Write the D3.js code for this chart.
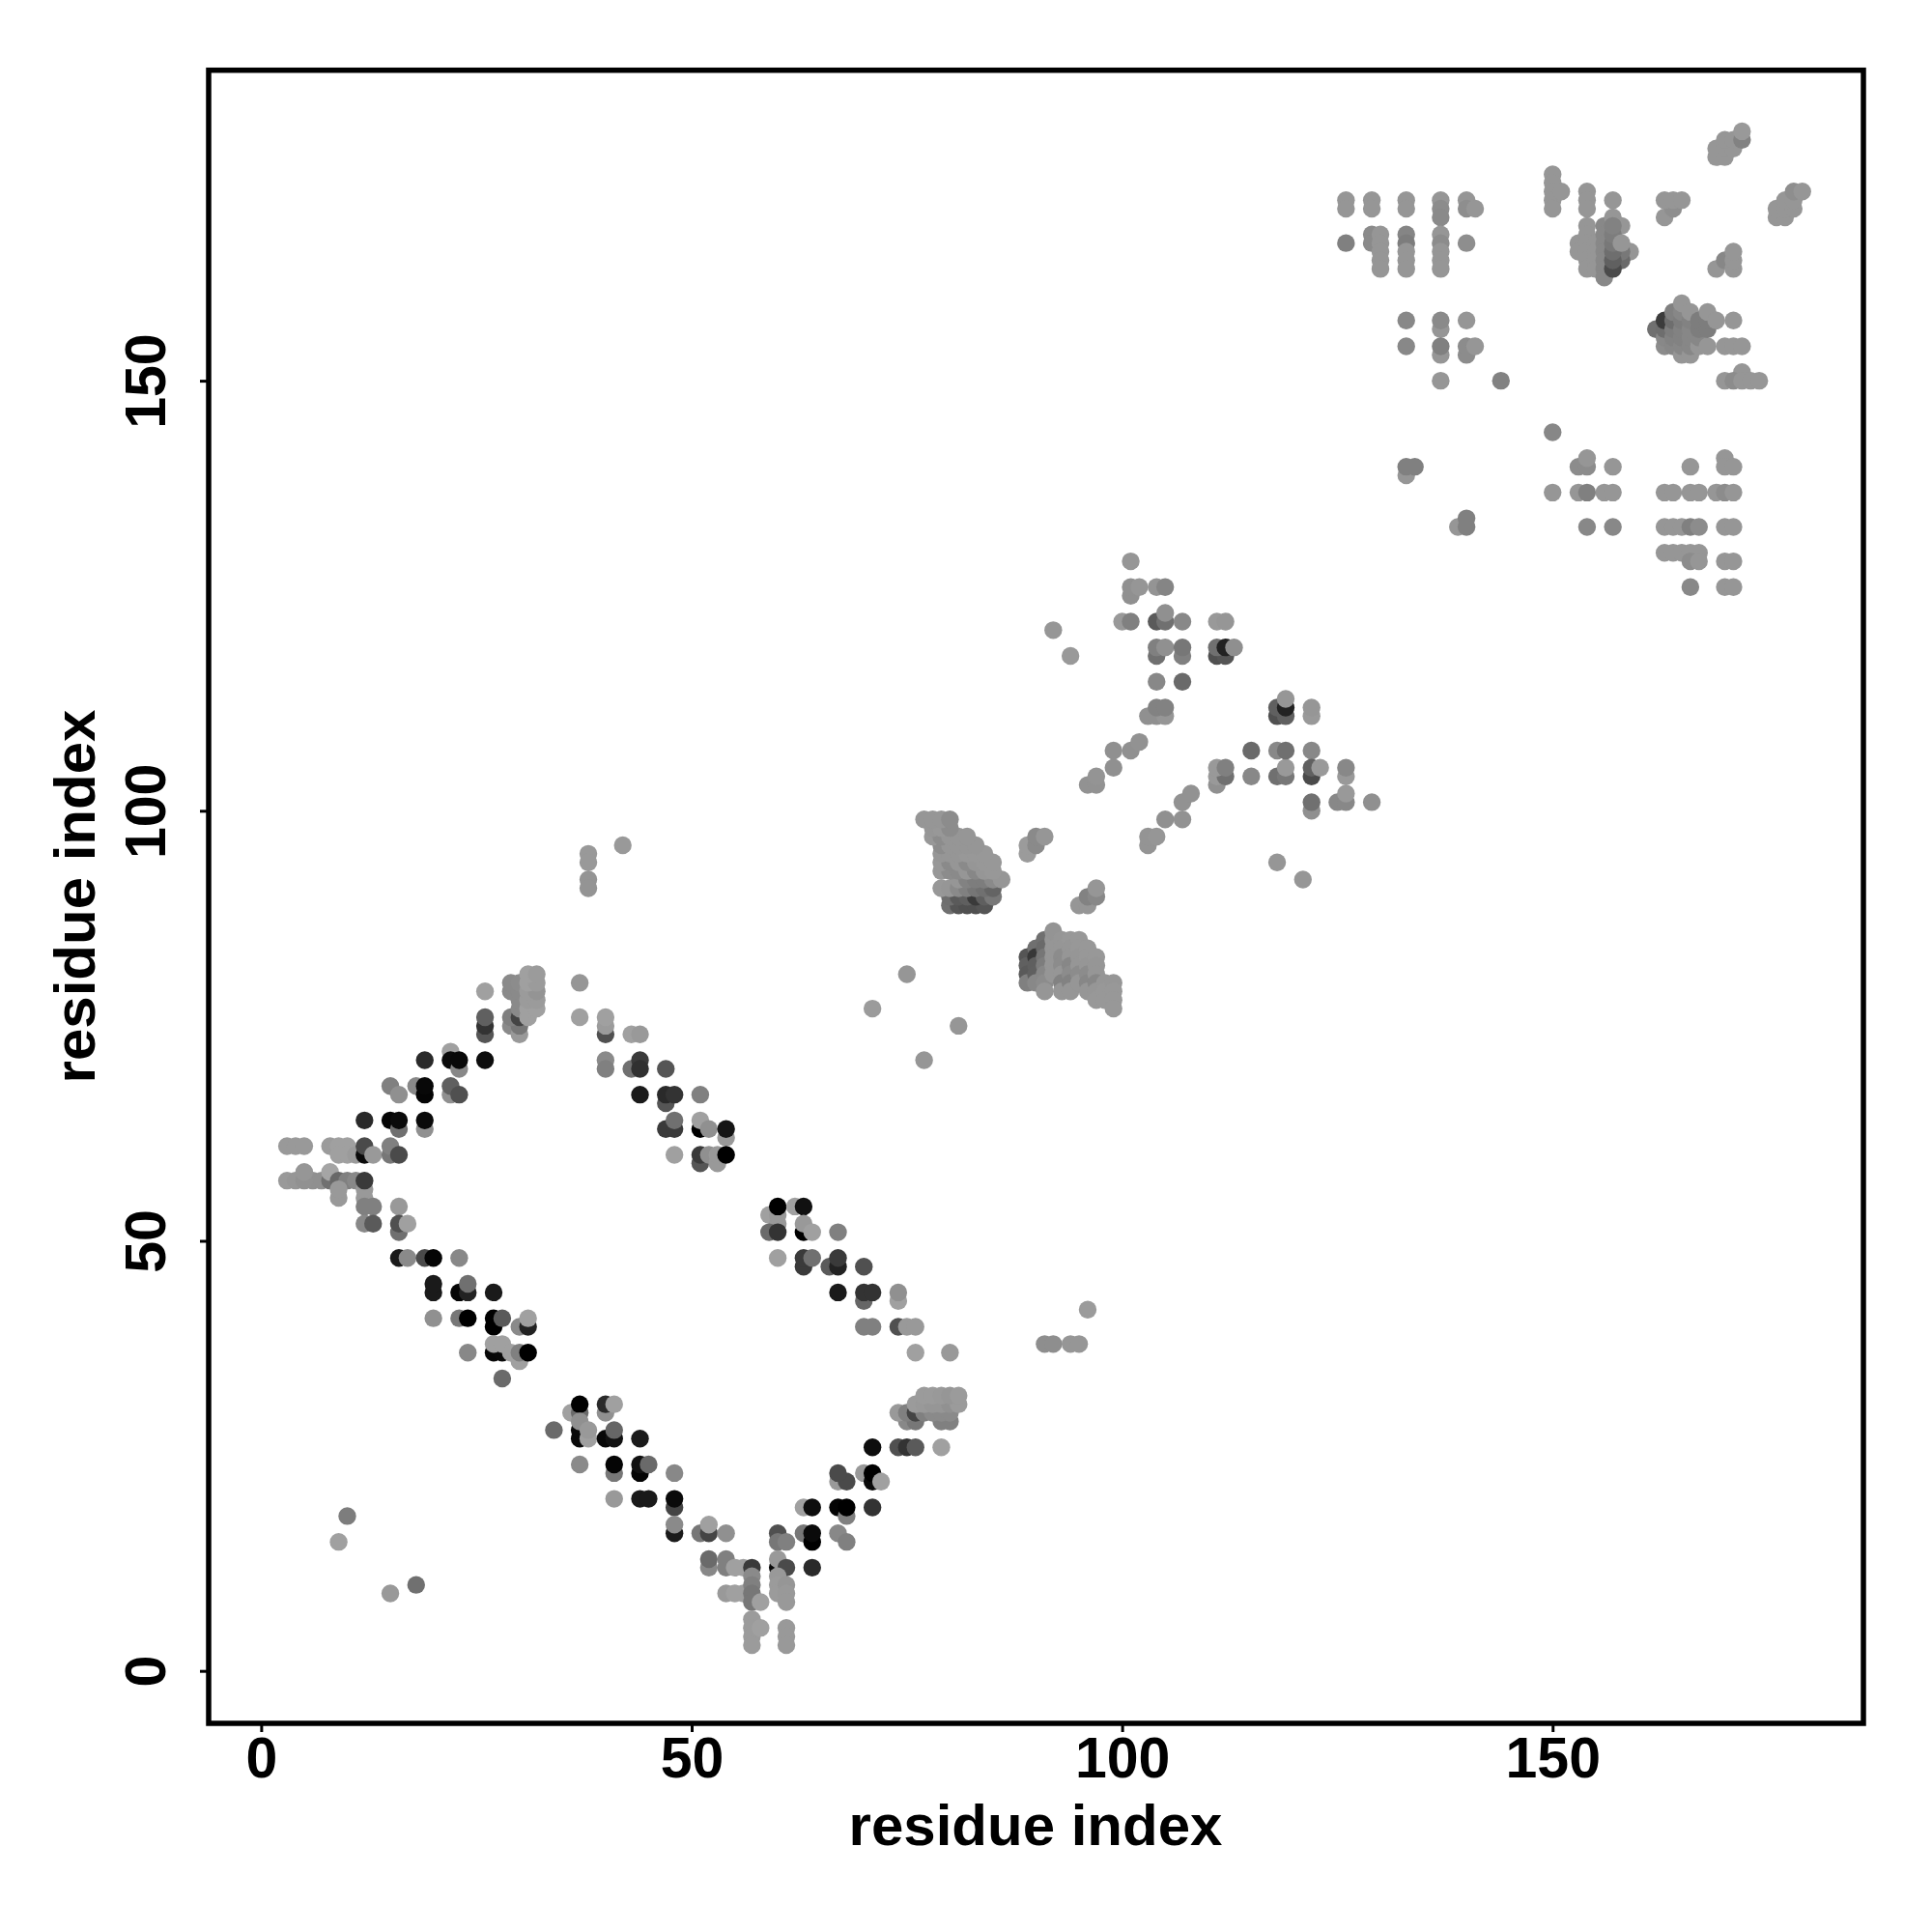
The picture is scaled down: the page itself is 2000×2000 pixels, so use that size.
<!DOCTYPE html>
<html><head><meta charset="utf-8">
<script src="https://cdn.jsdelivr.net/npm/d3@7"></script>
<style>html,body{margin:0;padding:0;background:#fff}svg{display:block}</style>
</head><body><svg id="c" width="2000" height="2000"></svg>
<script>
// each contact: [residue i, residue j, grey level]
const isolatedLow=[[10,18,125],[9,15,160],[15,9,153],[18,10,112],[38,95,153],[38,94,153],[38,92,148],[38,91,148],[42,96,153],[75,81,150],[71,77,155],[81,75,150],[77,71,150],[91,38,142],[92,38,142],[94,38,150],[95,38,150],[96,42,155],[76,37,160],[80,37,153]];
const upperLeft=[[3,61,153],[4,61,153],[5,61,153],[8,61,155],[9,61,160],[10,61,160],[9,60,160],[10,60,160],[11,60,155],[12,60,10],[12,61,74],[13,60,153],[15,60,119],[15,61,128],[16,60,74],
[3,57,153],[4,57,150],[6,57,144],[7,57,144],[5,57,145],[5,58,150],[8,57,112],[8,58,165],[9,57,104],[10,57,128],[11,57,136],[9,55,153],[9,56,153],[12,55,153],[12,56,153],[12,54,128],[13,54,128],[12,57,58],
[12,52,136],[13,52,90],[16,54,153],[16,51,112],[16,52,80],[17,52,160],
[12,64,42],[15,64,5],[16,63,112],[16,64,10],[19,63,144],[19,64,10],
[15,68,128],[16,67,144],[18,68,136],[19,67,5],[19,68,8],[22,67,144],[22,68,96],[23,67,80],
[19,71,42],[22,72,160],[22,71,10],[23,70,136],[23,71,8],[26,71,13],
[26,74,85],[26,75,51],[26,76,96],[26,79,160],
[29,75,138],[30,74,153],[30,75,119],[29,76,128],[30,76,68],[29,79,138],[29,80,138],[30,77,138],[30,78,138],[30,79,138],[30,80,140],[31,76,160],[31,77,160],[32,77,160],[31,78,155],[32,78,155],[31,79,155],[32,79,148],[31,80,160],[32,80,155],[31,81,160],[32,81,155]];
const lowerLeft=[[16,48,26],[17,48,138],[19,48,74],[20,48,5],[23,48,136],[20,44,26],[20,45,26],[23,44,5],[24,44,34],[24,45,112],[27,44,26],[20,41,144],[23,41,119],[24,41,0],[27,40,0],[27,41,0],[28,41,90],[30,40,138],[31,40,34],[31,41,160],
[24,37,136],[27,37,8],[28,37,10],[27,38,160],[28,38,160],[29,37,160],[30,36,160],[30,37,128],[31,37,0],[28,34,106],
[34,28,106],[36,30,160],[37,30,106],[37,31,0],[37,27,10],[37,28,10],[37,29,144],[38,27,160],[38,28,153],[40,27,8],[41,27,17],[41,28,102],[40,30,144],[40,31,42],[41,31,160],[44,27,26],
[37,24,138],[41,23,119],[41,24,5],[44,23,5],[44,24,17],[45,24,106],[48,23,136],
[41,20,153],[44,20,26],[45,20,26],[48,19,68],[48,20,10],[48,16,26],[48,17,138],
[51,16,119],[52,16,68],[52,17,160],[54,16,144],[52,12,136],[52,13,106],[54,12,128],[54,13,128],[55,12,160],[56,12,160],[57,12,58],
[54,9,153],[55,9,160],[56,9,160],[57,11,138],[57,10,128],[57,9,119],[57,8,119],[58,8,160],[57,6,155],[57,5,155],[57,4,155],[57,3,155],[58,5,160]];
const lowerRight=[[60,16,80],[60,15,119],[61,15,128],[60,12,10],[60,13,153],[61,12,74],[60,11,153],[60,10,155],[60,9,155],[61,10,150],[61,9,153],[61,8,153],[61,5,153],[61,4,153],[61,3,153],
[64,12,42],[63,16,119],[64,15,0],[64,16,10],[67,16,136],[68,15,128],[63,19,160],[64,19,13],[67,19,5],[68,18,128],[68,19,0],[71,19,51],[67,22,153],[68,22,74],[67,23,74],[70,23,153],[71,22,10],[71,23,0],[72,22,160],
[71,26,13],[74,26,80],[75,26,51],[76,26,90],[79,26,160],
[75,29,136],[76,29,119],[79,29,128],[80,29,128],[74,30,153],[75,30,128],[76,30,68],[77,30,128],[78,30,138],[79,30,138],[80,30,138],[76,31,155],[77,31,153],[78,31,150],[79,31,150],[80,31,145],[81,31,155],[77,32,155],[78,32,155],[79,32,153],[80,32,150],[81,32,155]];
const upperRight=[[37,80,150],[37,76,160],[40,74,80],[40,75,155],[40,76,160],[43,74,160],[44,74,153],[40,71,138],[40,70,128],[43,70,112],[44,71,58],[44,70,48],[47,70,85],[44,67,26],[47,66,85],[47,67,42],[48,67,51],[51,67,128],[47,63,58],[48,63,58],[48,64,112],[51,63,0],[51,64,160],[52,63,144],[54,62,153],[54,63,21],[48,60,160],[51,59,85],[51,60,58],[52,60,144],[53,59,153],[53,60,153],[54,60,0],
[59,53,160],[60,52,153],[60,53,153],[59,51,106],[60,51,51],[60,54,0],[62,54,160],[63,54,17],[63,51,0],[63,52,153],[64,51,160],[67,51,128],
[60,48,160],[63,47,58],[63,48,58],[64,48,112],[66,47,90],[67,47,34],[67,48,58],[70,47,80],[67,44,26],[70,43,102],[70,44,51],[71,44,51],[74,43,160],[74,44,144],[70,40,128],[71,40,128],[74,40,80],[75,40,153],[76,40,153]];
const blobA=[[80,89,112],[81,89,85],[82,89,80],[83,89,80],[84,89,85],[80,90,110],[81,90,90],[82,90,95],[83,90,58],[84,90,95],[85,90,120],
[79,91,152],[80,91,150],[81,91,138],[82,91,128],[83,91,118],[84,91,112],[85,91,100],
[81,92,150],[82,92,130],[83,92,125],[84,92,125],[85,92,138],[86,92,150],
[79,93,152],[80,93,140],[81,93,138],[82,93,150],[83,93,135],[84,93,150],[85,93,152],
[79,94,152],[80,94,138],[81,94,150],[82,94,138],[83,94,150],[84,94,152],[85,94,152],
[79,95,150],[80,95,150],[81,95,150],[82,95,152],[83,95,152],[84,95,152],
[79,96,140],[80,96,150],[81,96,150],[82,96,150],[83,96,150],
[78,97,152],[79,97,140],[80,97,150],[81,97,150],[82,97,150],
[78,98,150],[79,98,152],[80,98,140],[77,99,150],[78,99,150],[79,99,150],[80,99,140]];
const blobB=[[89,83,85],[89,82,96],[89,81,90],[89,80,128],[90,84,112],[90,83,56],[90,82,95],[90,81,96],[90,80,136],
[91,85,112],[91,84,106],[91,83,118],[91,82,125],[91,81,135],[91,80,140],[91,79,150],
[92,85,150],[92,84,150],[92,83,150],[92,82,150],[92,81,150],[92,86,148],
[93,85,150],[93,84,150],[93,83,140],[93,82,140],[93,81,150],[93,80,130],[93,79,150],
[94,85,152],[94,84,150],[94,83,150],[94,82,135],[94,81,140],[94,80,130],[94,79,150],
[95,85,152],[95,84,152],[95,83,150],[95,82,150],[95,81,140],[95,80,150],
[96,84,152],[96,83,152],[96,82,150],[96,81,140],[96,80,135],[96,79,150],
[97,83,152],[97,82,150],[97,81,150],[97,80,135],[97,79,150],[97,78,152],
[98,80,150],[98,79,152],[98,78,152],[99,80,150],[99,79,152],[99,78,152],[99,77,152]];
const helixLinks=[[89,95,155],[89,96,155],[90,96,138],[90,97,138],[91,97,150],[95,89,150],[96,89,150],[96,90,130],[97,90,136],[97,91,150],
[103,96,148],[103,97,148],[104,97,150],[105,99,144],[107,99,146],[107,101,146],[108,102,146],[96,103,146],[97,103,146],[97,104,148],[99,105,144],[99,107,144],[101,107,144],[102,108,146],
[103,111,144],[104,111,144],[105,111,150],[104,112,130],[105,112,130],[104,115,136],[107,115,106],
[104,118,112],[107,118,128],[111,118,80],[112,118,85],[104,119,128],[105,119,144],[107,119,119],[111,119,112],[112,119,34],[113,119,143],
[100,122,153],[101,122,128],[104,122,90],[105,122,112],[105,123,144],[107,122,136],[111,122,153],[112,122,150],
[101,125,144],[101,126,144],[102,126,150],[104,126,148],[105,126,133],[101,129,150],[92,121,150],[94,118,153]];
const farLinks=[[111,103,144],[111,104,153],[112,104,112],[111,105,153],[112,105,128],[115,104,136],[115,107,106],[118,104,112],[119,104,119],[119,105,153],[118,107,136],[119,107,112],[122,107,136],
[122,100,144],[122,101,112],[122,104,74],[122,105,96],[123,105,153],[126,104,153],[126,105,136],[125,101,136],[126,101,136],[126,102,153],[129,101,144],
[118,111,80],[119,111,96],[118,112,96],[119,112,34],[119,113,150],[122,111,153],[122,112,150],[118,94,150],[121,92,150]];
const topLeftGrid=[[126,171,150],[126,170,150],[126,166,128],[129,171,150],[129,170,150],[129,167,138],[129,166,138],[130,167,150],[130,166,150],[130,165,150],[130,164,150],[130,163,150],
[133,171,150],[133,170,150],[133,167,133],[133,166,125],[133,165,150],[133,164,150],[133,163,150],
[137,171,150],[137,170,140],[137,169,138],[137,167,150],[137,166,140],[137,165,150],[137,164,150],[137,163,150],
[140,171,150],[140,170,142],[141,170,150],[140,166,142],
[133,157,136],[133,154,136],[137,156,150],[137,157,138],[137,153,150],[137,154,128],[137,150,150],[140,157,150],[140,153,140],[140,154,140],[141,154,150],[144,150,130]];
const topRight=[[150,174,150],[150,173,150],[150,172,150],[150,171,150],[150,170,150],[151,172,150],[154,172,150],[154,171,150],[154,170,150],[157,171,150],
[153,166,150],[153,165,150],[154,168,150],[154,167,150],[154,166,150],[154,165,150],[154,164,150],[154,163,150],[155,166,150],[155,165,150],[155,164,150],[155,163,150],
[156,168,136],[156,167,136],[156,166,136],[156,165,136],[156,164,136],[156,163,136],[156,162,136],
[159,165,150],[158,164,106],[158,165,120],[157,169,150],[158,168,150],[157,163,75],[157,164,96],[157,165,110],[157,166,120],[157,167,125],[157,168,130],[158,166,150],
[163,169,150],[164,170,142],[163,171,150],[164,171,150],[165,171,150],
[169,176,150],[170,176,150],[169,177,150],[170,177,150],[171,177,150],[170,178,150],[171,178,150],[172,178,130],[172,179,153],
[169,163,150],[170,164,135],[171,163,150],[171,164,150],[171,165,150],
[176,169,150],[177,169,150],[176,170,150],[177,170,150],[178,170,150],[177,171,150],[178,171,150],[178,172,142],[179,172,150]];
const blobC=[[162,156,112],[163,154,140],[163,155,136],[163,156,110],[163,157,60],[164,154,135],[164,155,130],[164,156,125],[164,157,110],[164,158,128],
[165,153,150],[165,154,135],[165,155,130],[165,156,130],[165,157,125],[165,158,135],[165,159,150],
[166,153,150],[166,154,135],[166,155,135],[166,156,135],[166,157,130],[166,158,150],
[167,154,150],[167,155,135],[167,156,125],[167,157,125],[168,154,150],[168,156,125],[168,157,125],[168,158,150],[169,157,150],[171,157,150],
[170,154,150],[171,154,150],[172,154,150],[172,151,150],[170,150,150],[171,150,140],[172,150,150],[173,150,150],[174,150,150]];
const rightGrid=[[133,139,150],[133,140,128],[134,140,128],[139,133,150],[140,133,128],[140,134,128],
[150,144,135],[150,137,150],[153,140,140],[154,140,140],[154,141,150],[157,140,150],[153,137,150],[154,137,128],[156,137,150],[157,137,150],[154,133,136],[157,133,136],
[163,137,150],[164,137,150],[166,137,150],[167,137,150],[169,137,150],[170,137,140],[171,137,150],[166,140,150],[170,141,150],[170,140,150],[171,140,150],
[163,133,150],[164,133,150],[165,133,150],[166,133,128],[167,133,140],[170,133,150],[171,133,150],
[163,130,150],[164,130,150],[165,130,150],[166,130,150],[167,130,150],[166,129,140],[167,129,150],[170,129,150],[171,129,150],[166,126,136],[170,126,150],[171,126,150]];
const tickValues=[0,50,100,150];
const axisTitle="residue index";

const svg=d3.select("#c");
const font='"Liberation Sans",Arial,sans-serif';
const x=d3.scaleLinear().domain([-6.1,186.1]).range([216,1929]);
const y=d3.scaleLinear().domain([-6.1,186.1]).range([1784,72.7]);
const grey=d3.scaleLinear().domain([0,255]).range(["#000","#fff"]);
const contacts=[].concat(isolatedLow,upperLeft,lowerLeft,lowerRight,upperRight,blobA,blobB,helixLinks,farLinks,topLeftGrid,topRight,blobC,rightGrid);
svg.append("g").selectAll("circle").data(contacts).join("circle")
  .attr("cx",d=>x(d[0])).attr("cy",d=>y(d[1])).attr("r",9.2).attr("fill",d=>grey(d[2]));
svg.append("rect").attr("x",216).attr("y",72.7).attr("width",1713).attr("height",1711.3)
  .attr("fill","none").attr("stroke","#000").attr("stroke-width",5.5);
const gx=svg.append("g").attr("transform","translate(0,1784)")
  .call(d3.axisBottom(x).tickValues(tickValues).tickSize(9).tickPadding(0));
const gy=svg.append("g").attr("transform","translate(216,0)")
  .call(d3.axisLeft(y).tickValues(tickValues).tickSize(9).tickPadding(0));
[gx,gy].forEach(g=>{g.select(".domain").remove();g.selectAll("line").attr("stroke","#000").attr("stroke-width",3);});
gx.selectAll("text").attr("y",56).attr("dy",0).attr("font-family",font).attr("font-weight","bold").attr("font-size",59).attr("fill","#000").attr("text-anchor","middle");
gy.selectAll("text").attr("x",null).attr("dy",0).attr("y",null).attr("transform","translate(-45,0) rotate(-90)")
  .attr("font-family",font).attr("font-weight","bold").attr("font-size",59).attr("fill","#000").attr("text-anchor","middle");
svg.append("text").attr("x",1072).attr("y",1910).attr("text-anchor","middle").attr("font-family",font).attr("font-weight","bold").attr("font-size",60).text(axisTitle);
svg.append("text").attr("transform","translate(98,928) rotate(-90)").attr("text-anchor","middle").attr("font-family",font).attr("font-weight","bold").attr("font-size",60).text(axisTitle);
</script></body></html>
